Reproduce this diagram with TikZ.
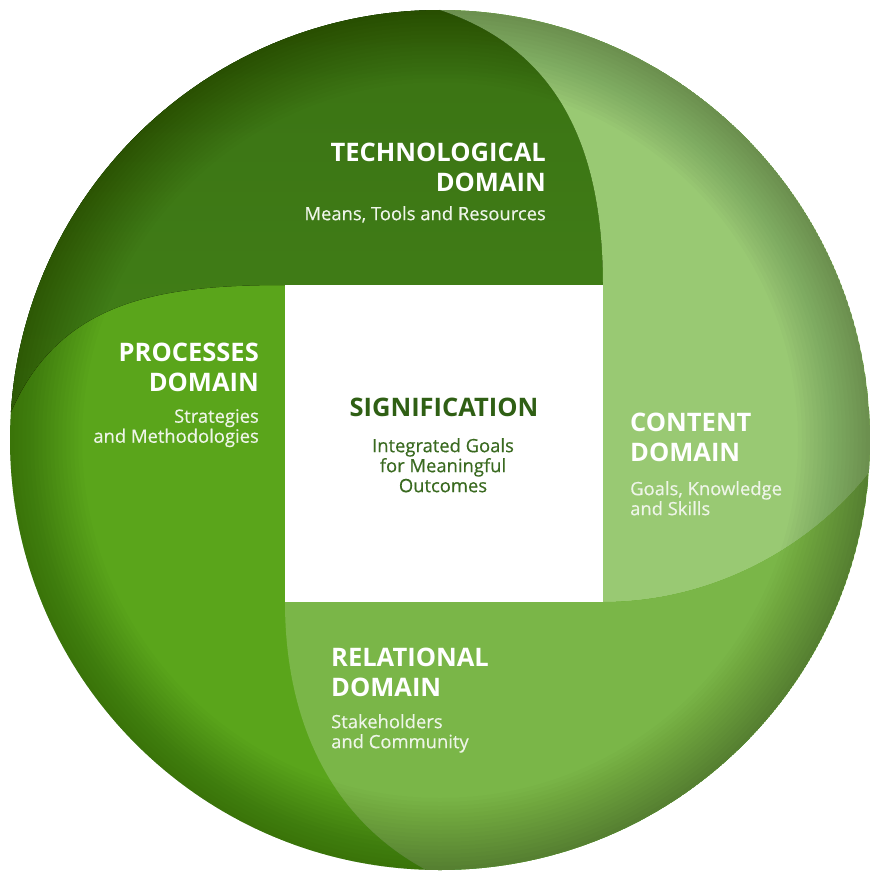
\documentclass[tikz,border=0pt]{standalone}
\usepackage{fontspec}
\setmainfont{Open Sans}
\newfontface\subfont{Open Sans}[FakeBold=0.45]
\definecolor{techG}{HTML}{428018}
\definecolor{techTop}{HTML}{3A7213}
\definecolor{procG}{HTML}{5AA51B}
\definecolor{contG}{HTML}{99C973}
\definecolor{relG}{HTML}{7AB648}
\definecolor{sigG}{HTML}{2F5F14}
\definecolor{sigSub}{HTML}{3A6A20}
\definecolor{subW}{HTML}{EEF5E8}
\tikzset{
  title/.style={font=\fontsize{25.5}{30}\selectfont\bfseries, text=white, inner sep=0pt},
  subt/.style={font=\subfont\fontsize{18.4}{20}\selectfont, text=subW, inner sep=0pt},
}
\begin{document}
\begin{tikzpicture}[x=1pt,y=-1pt]
\useasboundingbox (0,0) rectangle (870,875);
\fill[white] (0,0) rectangle (870,875);
\begin{scope}
\clip (440,440) circle (430pt);
% processes (base)
\fill[procG] (440,440) circle (430pt);
% technological
\fill[top color=techTop, bottom color=techG]
  (285,285) -- (603,285) .. controls (603,150) and (560,50) .. (440,10)
  -- (440,0) -- (0,0) -- (0,412) -- (11,412)
  .. controls (60,300) and (160,285) .. (285,285) -- cycle;
% content
\fill[contG]
  (603,602) -- (603,285) .. controls (603,150) and (560,50) .. (440,10)
  -- (440,0) -- (880,0) -- (880,465) -- (875,465)
  .. controls (820,540) and (720,602) .. (603,602) -- cycle;
% relational
\fill[relG]
  (285,602) -- (603,602) .. controls (720,602) and (820,540) .. (875,465)
  -- (880,465) -- (880,880) -- (430,880) -- (430,872)
  .. controls (330,820) and (285,720) .. (285,602) -- cycle;
% rim shading (sphere look)
\foreach \i in {1,...,18} {
  \pgfmathsetmacro{\rr}{430-\i*4}
  \fill[black, opacity=0.016, even odd rule] (440,440) circle (430pt) circle (\rr pt);
}
\end{scope}
% centre square
\fill[white] (285,285) rectangle (603,602);

% texts
\node[title, anchor=north east, align=right] (techT) at (546,143) {TECHNOLOGICAL\\DOMAIN};
\node[subt, anchor=north east] (techS) at (546,206) {Means, Tools and Resources};

\node[title, anchor=north east, align=right] (procT) at (259,343) {PROCESSES\\DOMAIN};
\node[subt, anchor=north east, align=right] (procS) at (259,409) {Strategies\\and Methodologies};

\node[title, anchor=north, text=sigG] (sigT) at (444,398) {SIGNIFICATION};
\node[subt, anchor=north, align=center, text=sigSub] (sigS) at (443,438) {Integrated Goals\\for Meaningful\\Outcomes};

\node[title, anchor=north west, align=left] (contT) at (630,413) {CONTENT\\DOMAIN};
\node[subt, anchor=north west, align=left] (contS) at (630,481) {Goals, Knowledge\\and Skills};

\node[title, anchor=north west, align=left] (relT) at (331,648) {RELATIONAL\\DOMAIN};
\node[subt, anchor=north west, align=left] (relS) at (331,714) {Stakeholders\\and Community};
\end{tikzpicture}
\end{document}
